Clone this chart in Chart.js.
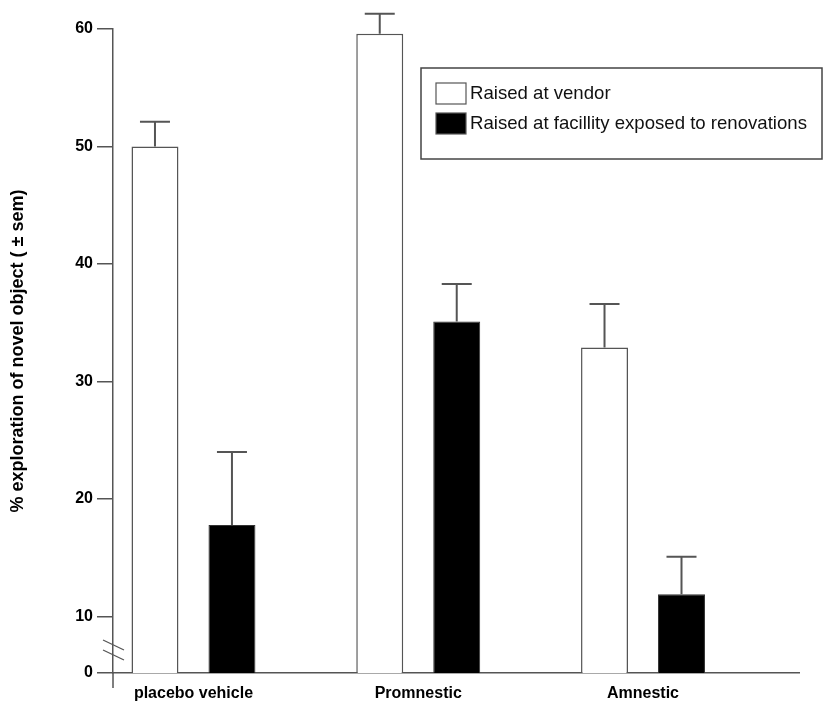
<!DOCTYPE html>
<html>
<head>
<meta charset="utf-8">
<script src="https://cdn.jsdelivr.net/npm/chart.js@4.4.0/dist/chart.umd.min.js"></script>
<style>
    html, body { margin: 0; padding: 0; background: #fff; }
    #wrap { position: relative; width: 823px; height: 707px; }
</style>
</head>
<body>
<div id="wrap"><canvas id="chart"></canvas></div>
<script>
const groups       = ['placebo vehicle', 'Promnestic', 'Amnestic'];
const seriesNames  = ['Raised at vendor', 'Raised at facillity exposed to renovations'];
const vendorMean   = [50.0, 59.6, 32.9];
const vendorSem    = [2.1, 1.7, 3.7];
const renovMean    = [17.8, 35.1, 11.9];
const renovSem     = [6.2, 3.2, 3.2];
const yTickValues  = [10, 20, 30, 40, 50, 60];
const yBreakValue  = 5.2;   // broken axis: its bottom is labelled 0
const yBreakLabel  = '0';

const LINE  = '#555';
const FONT  = '"Liberation Sans", Arial, sans-serif';

// upward-only error bars with a cap
const errorBars = {
    id: 'errorBars',
    afterDatasetsDraw(chart) {
        const { ctx, scales: { y } } = chart;
        ctx.save();
        ctx.strokeStyle = LINE;
        ctx.lineWidth   = 2;
        chart.data.datasets.forEach((ds, di) => {
            chart.getDatasetMeta(di).data.forEach((bar, i) => {
                const top = y.getPixelForValue(ds.data[i].y + ds.sem[i]);
                ctx.beginPath();
                ctx.moveTo(bar.x, bar.y);
                ctx.lineTo(bar.x, top);
                ctx.moveTo(bar.x - 15, top);
                ctx.lineTo(bar.x + 15, top);
                ctx.stroke();
            });
        });
        ctx.restore();
    }
};

// axis stub below the baseline and the // break marks
const axisBreak = {
    id: 'axisBreak',
    afterDraw(chart) {
        const { ctx, chartArea } = chart;
        const x0 = chartArea.left, yb = chartArea.bottom;
        ctx.save();
        ctx.strokeStyle = LINE;
        ctx.lineWidth   = 1.5;
        ctx.beginPath();
        ctx.moveTo(x0, yb);
        ctx.lineTo(x0, yb + 15);
        ctx.stroke();
        ctx.lineWidth = 1.2;
        [-28, -18].forEach(dy => {
            ctx.beginPath();
            ctx.moveTo(x0 - 10, yb + dy - 5);
            ctx.lineTo(x0 + 11, yb + dy + 5);
            ctx.stroke();
        });
        ctx.restore();
    }
};

// boxed legend in the upper right
const boxLegend = {
    id: 'boxLegend',
    afterDraw(chart) {
        const { ctx } = chart;
        const box = { x: 421, y: 68, w: 401, h: 91 };
        ctx.save();
        ctx.fillStyle = '#fff';
        ctx.fillRect(box.x, box.y, box.w, box.h);
        ctx.strokeStyle = '#444';
        ctx.lineWidth   = 1.5;
        ctx.strokeRect(box.x, box.y, box.w, box.h);
        ctx.font         = '18.6px ' + FONT;
        ctx.textBaseline = 'middle';
        chart.data.datasets.forEach((ds, i) => {
            const rowY = box.y + 15 + i * 30;
            ctx.fillStyle = ds.backgroundColor;
            ctx.fillRect(box.x + 15, rowY, 30, 21);
            ctx.strokeStyle = LINE;
            ctx.lineWidth   = 1.2;
            ctx.strokeRect(box.x + 15, rowY, 30, 21);
            ctx.fillStyle = '#111';
            ctx.fillText(ds.label, box.x + 49, rowY + 11);
        });
        ctx.restore();
    }
};

const ctx = document.getElementById('chart').getContext('2d');
new Chart(ctx, {
    type: 'bar',
    data: {
        datasets: [
            {
                label:           seriesNames[0],
                data:            vendorMean.map((v, i) => ({ x: i, y: v })),
                sem:             vendorSem,
                backgroundColor: '#fff',
                borderColor:     LINE,
                borderWidth:     1.5,
            },
            {
                label:           seriesNames[1],
                data:            renovMean.map((v, i) => ({ x: i, y: v })),
                sem:             renovSem,
                backgroundColor: '#000',
                borderColor:     '#333',
                borderWidth:     1,
            }
        ]
    },
    options: {
        responsive:          true,
        maintainAspectRatio: false,
        animation:           false,
        devicePixelRatio:    1,
        layout:  { padding: { top: 29, right: 24, left: 0, bottom: 0 } },
        datasets: { bar: { categoryPercentage: 0.685, barPercentage: 0.61 } },
        plugins: {
            legend:  { display: false },
            tooltip: { enabled: false }
        },
        scales: {
            x: {
                type:   'linear',
                min:    -0.358,
                max:    2.694,
                offset: false,
                grid:   { display: false, drawTicks: false, offset: false },
                border: { display: true, color: LINE, width: 1.5 },
                ticks:  {
                    autoSkip:    false,
                    maxRotation: 0,
                    padding:     11,
                    color:       '#000',
                    font:        { family: FONT, size: 16, weight: 'bold' },
                    callback:    v => groups[v]
                },
                afterBuildTicks: s => { s.ticks = groups.map((g, i) => ({ value: i })); },
                afterFit:        s => { s.height = 34; }
            },
            y: {
                min:    yBreakValue,
                max:    yTickValues[yTickValues.length - 1],
                grid:   { drawOnChartArea: false, drawTicks: true, tickLength: 16, color: LINE, lineWidth: 1.5 },
                border: { display: true, color: LINE, width: 1.5 },
                ticks:  {
                    padding:  4,
                    color:    '#000',
                    font:     { family: FONT, size: 16, weight: 'bold' },
                    callback: v => v === yBreakValue ? yBreakLabel : v
                },
                title: {
                    display: true,
                    text:    '% exploration of novel object ( \u00b1 sem)',
                    color:   '#000',
                    font:    { family: FONT, size: 18, weight: 'bold' },
                    padding: { top: 7, bottom: 0 }
                },
                afterBuildTicks: s => { s.ticks = [yBreakValue, ...yTickValues].map(v => ({ value: v })); },
                afterFit:        s => { s.width = 113; }
            }
        }
    },
    plugins: [errorBars, axisBreak, boxLegend]
});
</script>
</body>
</html>
